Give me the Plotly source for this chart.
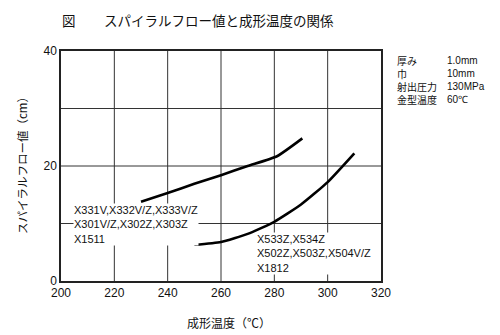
import plotly.graph_objects as go

# Data
temp_a = [230, 240, 250, 260, 270, 281, 290.5]
flow_a = [13.8, 15.3, 16.9, 18.4, 20.0, 21.7, 24.8]
temp_b = [250, 260, 270, 280, 290, 300, 310]
flow_b = [6.3, 6.8, 8.2, 10.3, 13.3, 17.2, 22.2]

label_a = "X331V,X332V/Z,X333V/Z<br>X301V/Z,X302Z,X303Z<br>X1511"
label_b = "X533Z,X534Z<br>X502Z,X503Z,X504V/Z<br>X1812"

cond_names = ["厚み", "巾", "射出圧力", "金型温度"]
cond_values = ["1.0mm", "10mm", "130MPa", "60℃"]

x_ticks = [200, 220, 240, 260, 280, 300, 320]
y_ticks = [0, 20, 40]

JP = "Noto Sans CJK JP"
LAT = "Liberation Sans"

fig = go.Figure()
for xs, ys in [(temp_a, flow_a), (temp_b, flow_b)]:
    fig.add_trace(go.Scatter(x=xs, y=ys, mode="lines",
                             line=dict(color="black", width=2.6, shape="spline", smoothing=0.5),
                             showlegend=False, hoverinfo="skip"))

# grid lines
for gx in [220, 240, 260, 280, 300]:
    fig.add_shape(type="line", x0=gx, x1=gx, y0=0, y1=40, xref="x", yref="y",
                  line=dict(color="#333", width=1), layer="below")
for gy in [10, 20, 30]:
    fig.add_shape(type="line", x0=200, x1=320, y0=gy, y1=gy, xref="x", yref="y",
                  line=dict(color="#333", width=1), layer="below")

fig.add_annotation(x=204.5, y=9.9, xref="x", yref="y", text=label_a, showarrow=False,
                   xanchor="left", yanchor="middle", align="left", bgcolor="white",
                   borderpad=0, font=dict(family=LAT, size=11, color="#111"))
fig.add_annotation(x=273.3, y=4.7, xref="x", yref="y", text=label_b, showarrow=False,
                   xanchor="left", yanchor="middle", align="left", bgcolor="white",
                   borderpad=0, font=dict(family=LAT, size=11, color="#111"))

# conditions
fig.add_annotation(x=395, y=80, xref="paper", yref="paper", text="<br>".join(cond_names),
                   showarrow=False, xanchor="left", yanchor="middle", align="left",
                   font=dict(family=JP, size=10, color="#111"))
fig.add_annotation(x=445, y=80, xref="paper", yref="paper", text="<br>".join(cond_values),
                   showarrow=False, xanchor="left", yanchor="middle", align="left",
                   font=dict(family=LAT, size=10, color="#111"))

# Title
fig.add_annotation(x=60, y=20, xref="paper", yref="paper", text="図", showarrow=False,
                   xanchor="left", yanchor="middle", font=dict(family=JP, size=13.5, color="#111"))
fig.add_annotation(x=102, y=20, xref="paper", yref="paper", text="スパイラルフロー値と成形温度の関係",
                   showarrow=False, xanchor="left", yanchor="middle",
                   font=dict(family=JP, size=13.5, color="#111"))
# axis titles
fig.add_annotation(x=229, y=322, xref="paper", yref="paper", text="成形温度（℃）", showarrow=False,
                   xanchor="center", yanchor="middle", font=dict(family=JP, size=12, color="#111"))
fig.add_annotation(x=22, y=163, xref="paper", yref="paper", text="スパイラルフロー値（cm）", showarrow=False,
                   textangle=-90, xanchor="center", yanchor="middle",
                   font=dict(family=JP, size=11.5, color="#111"))

# convert pixel positions to paper coordinates
W, H = 500, 335
ml, mr, mt, mb = 61, 119, 51, 54
pw, ph = W - ml - mr, H - mt - mb
for a in fig.layout.annotations:
    if a.xref == "paper":
        a.x = (a.x - ml) / pw
        a.y = 1 - (a.y - mt) / ph

fig.update_layout(
    width=W, height=H, margin=dict(l=ml, r=mr, t=mt, b=mb),
    paper_bgcolor="white", plot_bgcolor="white",
    xaxis=dict(range=[200, 320], tickvals=x_ticks, showgrid=False, zeroline=False,
               showline=True, linecolor="#222", linewidth=1.5, mirror=True,
               ticks="", tickfont=dict(family=LAT, size=12, color="#111")),
    yaxis=dict(range=[0, 40], tickvals=y_ticks, showgrid=False, zeroline=False,
               showline=True, linecolor="#222", linewidth=1.5, mirror=True,
               ticks="", tickfont=dict(family=LAT, size=12, color="#111")),
)
fig.write_html("out.html")
